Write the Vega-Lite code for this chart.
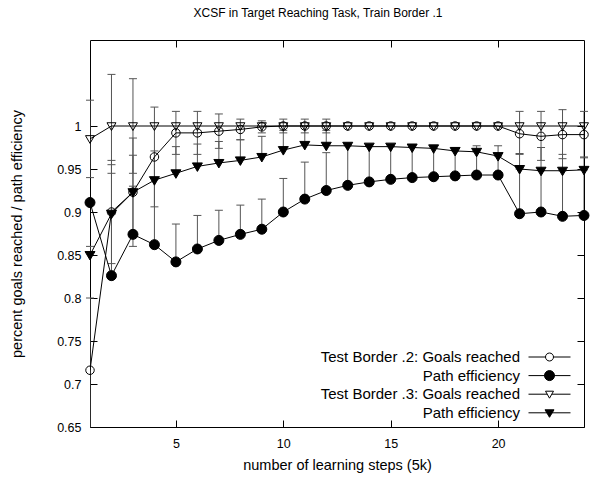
{
  "$schema": "https://vega.github.io/schema/vega-lite/v6.json",
  "width": 494,
  "height": 387,
  "autosize": {"type": "none"},
  "padding": {"left": 90, "top": 40, "right": 11, "bottom": 56},
  "title": {"text": "XCSF in Target Reaching Task, Train Border .1", "fontSize": 12, "font": "Liberation Sans", "fontWeight": "normal", "offset": 20, "dx": -19, "color": "black"},
  "config": {
    "view": {"stroke": "black", "strokeWidth": 1},
    "font": "Liberation Sans",
    "axis": {"grid": false, "domain": false, "tickColor": "black", "labelColor": "black", "titleColor": "black", "labelFontSize": 12.5, "titleFontSize": 14.5, "titleFontWeight": "normal", "labelFont": "Liberation Sans", "titleFont": "Liberation Sans"}
  },
  "data": {"values": [
    {"x":1,"s":"A","v":0.716,"lo":0.632,"hi":0.80},
    {"x":2,"s":"A","v":0.900,"lo":0.84,"hi":0.96},
    {"x":3,"s":"A","v":0.923,"lo":0.86,"hi":0.986},
    {"x":4,"s":"A","v":0.964,"lo":0.906,"hi":1.022},
    {"x":5,"s":"A","v":0.992,"lo":0.967,"hi":1.017},
    {"x":6,"s":"A","v":0.992,"lo":0.967,"hi":1.017},
    {"x":7,"s":"A","v":0.994,"lo":0.974,"hi":1.014},
    {"x":8,"s":"A","v":0.996,"lo":0.984,"hi":1.008},
    {"x":9,"s":"A","v":0.999,"lo":0.992,"hi":1.006},
    {"x":10,"s":"A","v":1.0,"lo":0.992,"hi":1.008},
    {"x":11,"s":"A","v":1.0,"lo":0.992,"hi":1.008},
    {"x":12,"s":"A","v":1.0,"lo":0.992,"hi":1.008},
    {"x":13,"s":"A","v":1.0,"lo":1.0,"hi":1.0},
    {"x":14,"s":"A","v":1.0,"lo":1.0,"hi":1.0},
    {"x":15,"s":"A","v":1.0,"lo":1.0,"hi":1.0},
    {"x":16,"s":"A","v":1.0,"lo":1.0,"hi":1.0},
    {"x":17,"s":"A","v":1.0,"lo":1.0,"hi":1.0},
    {"x":18,"s":"A","v":1.0,"lo":1.0,"hi":1.0},
    {"x":19,"s":"A","v":1.0,"lo":1.0,"hi":1.0},
    {"x":20,"s":"A","v":1.0,"lo":1.0,"hi":1.0},
    {"x":21,"s":"A","v":0.991,"lo":0.967,"hi":1.017},
    {"x":22,"s":"A","v":0.988,"lo":0.96,"hi":1.017},
    {"x":23,"s":"A","v":0.990,"lo":0.962,"hi":1.019},
    {"x":24,"s":"A","v":0.990,"lo":0.963,"hi":1.017},

    {"x":1,"s":"B","v":0.911,"lo":0.911,"hi":0.911},
    {"x":2,"s":"B","v":0.826,"lo":0.826,"hi":0.90},
    {"x":3,"s":"B","v":0.874,"lo":0.874,"hi":0.93},
    {"x":4,"s":"B","v":0.862,"lo":0.862,"hi":0.94},
    {"x":5,"s":"B","v":0.842,"lo":0.842,"hi":0.886},
    {"x":6,"s":"B","v":0.857,"lo":0.857,"hi":0.896},
    {"x":7,"s":"B","v":0.867,"lo":0.867,"hi":0.902},
    {"x":8,"s":"B","v":0.874,"lo":0.874,"hi":0.908},
    {"x":9,"s":"B","v":0.880,"lo":0.880,"hi":0.915},
    {"x":10,"s":"B","v":0.900,"lo":0.900,"hi":0.939},
    {"x":11,"s":"B","v":0.915,"lo":0.915,"hi":0.958},
    {"x":12,"s":"B","v":0.925,"lo":0.925,"hi":0.969},
    {"x":13,"s":"B","v":0.931,"lo":0.931,"hi":0.977},
    {"x":14,"s":"B","v":0.935,"lo":0.935,"hi":0.976},
    {"x":15,"s":"B","v":0.938,"lo":0.938,"hi":0.976},
    {"x":16,"s":"B","v":0.940,"lo":0.940,"hi":0.975},
    {"x":17,"s":"B","v":0.941,"lo":0.941,"hi":0.974},
    {"x":18,"s":"B","v":0.942,"lo":0.942,"hi":0.971},
    {"x":19,"s":"B","v":0.943,"lo":0.943,"hi":0.970},
    {"x":20,"s":"B","v":0.943,"lo":0.943,"hi":0.965},
    {"x":21,"s":"B","v":0.898,"lo":0.898,"hi":0.950},
    {"x":22,"s":"B","v":0.900,"lo":0.900,"hi":0.948},
    {"x":23,"s":"B","v":0.895,"lo":0.895,"hi":0.948},
    {"x":24,"s":"B","v":0.896,"lo":0.896,"hi":0.949},

    {"x":1,"s":"C","v":0.985,"lo":0.94,"hi":1.03},
    {"x":2,"s":"C","v":1.0,"lo":0.945,"hi":1.06},
    {"x":3,"s":"C","v":1.0,"lo":0.945,"hi":1.055},
    {"x":4,"s":"C","v":1.0,"lo":1.0,"hi":1.0},
    {"x":5,"s":"C","v":1.0,"lo":1.0,"hi":1.0},
    {"x":6,"s":"C","v":1.0,"lo":1.0,"hi":1.0},
    {"x":7,"s":"C","v":1.0,"lo":1.0,"hi":1.0},
    {"x":8,"s":"C","v":1.0,"lo":1.0,"hi":1.0},
    {"x":9,"s":"C","v":1.0,"lo":1.0,"hi":1.0},
    {"x":10,"s":"C","v":1.0,"lo":1.0,"hi":1.0},
    {"x":11,"s":"C","v":1.0,"lo":1.0,"hi":1.0},
    {"x":12,"s":"C","v":1.0,"lo":1.0,"hi":1.0},
    {"x":13,"s":"C","v":1.0,"lo":1.0,"hi":1.0},
    {"x":14,"s":"C","v":1.0,"lo":1.0,"hi":1.0},
    {"x":15,"s":"C","v":1.0,"lo":1.0,"hi":1.0},
    {"x":16,"s":"C","v":1.0,"lo":1.0,"hi":1.0},
    {"x":17,"s":"C","v":1.0,"lo":1.0,"hi":1.0},
    {"x":18,"s":"C","v":1.0,"lo":1.0,"hi":1.0},
    {"x":19,"s":"C","v":1.0,"lo":1.0,"hi":1.0},
    {"x":20,"s":"C","v":1.0,"lo":1.0,"hi":1.0},
    {"x":21,"s":"C","v":1.0,"lo":1.0,"hi":1.0},
    {"x":22,"s":"C","v":1.0,"lo":1.0,"hi":1.0},
    {"x":23,"s":"C","v":1.0,"lo":1.0,"hi":1.0},
    {"x":24,"s":"C","v":1.0,"lo":1.0,"hi":1.0},

    {"x":1,"s":"D","v":0.850,"lo":0.850,"hi":0.86},
    {"x":2,"s":"D","v":0.898,"lo":0.898,"hi":0.955},
    {"x":3,"s":"D","v":0.923,"lo":0.923,"hi":0.966},
    {"x":4,"s":"D","v":0.937,"lo":0.937,"hi":0.971},
    {"x":5,"s":"D","v":0.945,"lo":0.945,"hi":0.976},
    {"x":6,"s":"D","v":0.953,"lo":0.953,"hi":0.979},
    {"x":7,"s":"D","v":0.957,"lo":0.957,"hi":0.982},
    {"x":8,"s":"D","v":0.960,"lo":0.960,"hi":0.984},
    {"x":9,"s":"D","v":0.964,"lo":0.964,"hi":0.988},
    {"x":10,"s":"D","v":0.972,"lo":0.972,"hi":0.995},
    {"x":11,"s":"D","v":0.978,"lo":0.978,"hi":1.0},
    {"x":12,"s":"D","v":0.977,"lo":0.977,"hi":0.995},
    {"x":13,"s":"D","v":0.977,"lo":0.977,"hi":0.977},
    {"x":14,"s":"D","v":0.976,"lo":0.976,"hi":0.976},
    {"x":15,"s":"D","v":0.976,"lo":0.976,"hi":0.976},
    {"x":16,"s":"D","v":0.975,"lo":0.975,"hi":0.975},
    {"x":17,"s":"D","v":0.974,"lo":0.974,"hi":0.974},
    {"x":18,"s":"D","v":0.971,"lo":0.971,"hi":0.975},
    {"x":19,"s":"D","v":0.970,"lo":0.970,"hi":0.977},
    {"x":20,"s":"D","v":0.965,"lo":0.965,"hi":0.977},
    {"x":21,"s":"D","v":0.950,"lo":0.950,"hi":0.968},
    {"x":22,"s":"D","v":0.948,"lo":0.948,"hi":0.975},
    {"x":23,"s":"D","v":0.948,"lo":0.948,"hi":0.967},
    {"x":24,"s":"D","v":0.949,"lo":0.949,"hi":0.964}
  ]},
  "resolve": {"axis": {"x": "independent", "y": "independent"}, "scale": {"shape": "independent", "fill": "independent"}},
  "layer": [
    {
      "transform": [{"filter": "datum.hi > datum.lo"}],
      "mark": {"type": "rule", "color": "#555555", "strokeWidth": 1, "clip": true},
      "encoding": {
        "x": {"field": "x", "type": "quantitative", "scale": {"domain": [1, 24], "nice": false, "zero": false},
              "axis": {"orient": "bottom", "values": [5, 10, 15, 20], "tickSize": -7, "labelPadding": 17, "title": "number of learning steps (5k)", "titlePadding": 9}},
        "y": {"field": "lo", "type": "quantitative", "scale": {"domain": [0.65, 1.1], "nice": false, "zero": false},
              "axis": {"orient": "left", "values": [0.65, 0.7, 0.75, 0.8, 0.85, 0.9, 0.95, 1], "format": ".2~f", "tickSize": -7, "labelPadding": 16, "title": "percent goals reached / path efficiency", "titlePadding": 32}},
        "y2": {"field": "hi"}
      }
    },
    {
      "transform": [{"fold": ["lo", "hi"], "as": ["k", "cv"]}, {"filter": "datum.cv != datum.v && datum.cv >= 0.65 && datum.cv <= 1.1"}],
      "mark": {"type": "point", "shape": "M-1,0H1", "size": 64, "stroke": "#555555", "strokeWidth": 1, "filled": false, "opacity": 1},
      "encoding": {
        "x": {"field": "x", "type": "quantitative", "axis": null},
        "y": {"field": "cv", "type": "quantitative", "axis": null}
      }
    },
    {
      "mark": {"type": "line", "color": "black", "strokeWidth": 1, "clip": true},
      "encoding": {
        "x": {"field": "x", "type": "quantitative",
              "axis": {"orient": "top", "values": [5, 10, 15, 20], "tickSize": -7, "labels": false, "title": null}},
        "y": {"field": "v", "type": "quantitative",
              "axis": {"orient": "right", "values": [0.65, 0.7, 0.75, 0.8, 0.85, 0.9, 0.95, 1], "tickSize": -7, "labels": false, "title": null}},
        "detail": {"field": "s"},
        "order": {"field": "x"}
      }
    },
    {
      "mark": {"type": "point", "stroke": "black", "strokeWidth": 1, "opacity": 1},
      "encoding": {
        "x": {"field": "x", "type": "quantitative", "axis": null},
        "y": {"field": "v", "type": "quantitative", "axis": null},
        "shape": {"field": "s", "type": "nominal", "legend": null,
                  "scale": {"domain": ["A", "B", "C", "D"], "range": ["M0.85,0A0.85,0.85,0,1,1,-0.85,0A0.85,0.85,0,1,1,0.85,0", "M1,0A1,1,0,1,1,-1,0A1,1,0,1,1,1,0", "M-0.9,-0.65L0.9,-0.65L0,0.9Z", "M-1,-0.7L1,-0.7L0,1Z"]}},
        "fill": {"field": "s", "type": "nominal", "legend": null,
                 "scale": {"domain": ["A", "B", "C", "D"], "range": ["transparent", "black", "transparent", "black"]}},
        "size": {"value": 100}
      }
    },
    {
      "transform": [{"filter": "datum.x < 0"}],
      "mark": {"type": "point", "stroke": "black", "strokeWidth": 1, "opacity": 1},
      "encoding": {
        "x": {"field": "x", "type": "quantitative", "axis": null},
        "y": {"field": "v", "type": "quantitative", "axis": null},
        "stroke": {"value": "black"},
        "shape": {"field": "s", "type": "nominal",
                  "scale": {"domain": ["A", "B", "C", "D"], "range": [
                    "M-4.2,0H-0.8M0.8,0H4.2M0.8,0A0.8,0.8,0,1,1,-0.8,0A0.8,0.8,0,1,1,0.8,0",
                    "M-4.2,0H4.2M1,0A1,1,0,1,1,-1,0A1,1,0,1,1,1,0",
                    "M-4.2,0H-0.46M0.46,0H4.2M-0.8,-0.6L0.8,-0.6L0,0.8Z",
                    "M-4.2,0H4.2M-0.9,-0.6L0.9,-0.6L0,0.9Z"]},
                  "legend": {"orient": "none", "legendX": 452, "legendY": 309.5, "title": null, "direction": "vertical", "padding": 0, "rowPadding": 2.6, "symbolSize": 100, "symbolStrokeColor": "black", "symbolStrokeWidth": 1, "symbolOpacity": 1, "labelFontSize": 15, "labelFont": "Liberation Sans", "labelColor": "black", "labelAlign": "right", "labelOffset": -37, "labelLimit": 400,
                             "encode": {"symbols": {"update": {"stroke": {"value": "black"}, "strokeWidth": {"value": 1}}}},
                             "labelExpr": "datum.label == 'A' ? 'Test Border .2: Goals reached' : datum.label == 'C' ? 'Test Border .3: Goals reached' : 'Path efficiency'"}},
        "fill": {"field": "s", "type": "nominal",
                 "scale": {"domain": ["A", "B", "C", "D"], "range": ["white", "black", "white", "black"]},
                 "legend": {"orient": "none", "legendX": 452, "legendY": 309.5, "title": null, "direction": "vertical", "padding": 0, "rowPadding": 2.6, "symbolSize": 100, "symbolStrokeColor": "black", "symbolStrokeWidth": 1, "symbolOpacity": 1, "labelFontSize": 15, "labelFont": "Liberation Sans", "labelColor": "black", "labelAlign": "right", "labelOffset": -37, "labelLimit": 400,
                            "encode": {"symbols": {"update": {"stroke": {"value": "black"}, "strokeWidth": {"value": 1}}}},
                            "labelExpr": "datum.label == 'A' ? 'Test Border .2: Goals reached' : datum.label == 'C' ? 'Test Border .3: Goals reached' : 'Path efficiency'"}},
        "size": {"value": 100}
      }
    }
  ]
}
